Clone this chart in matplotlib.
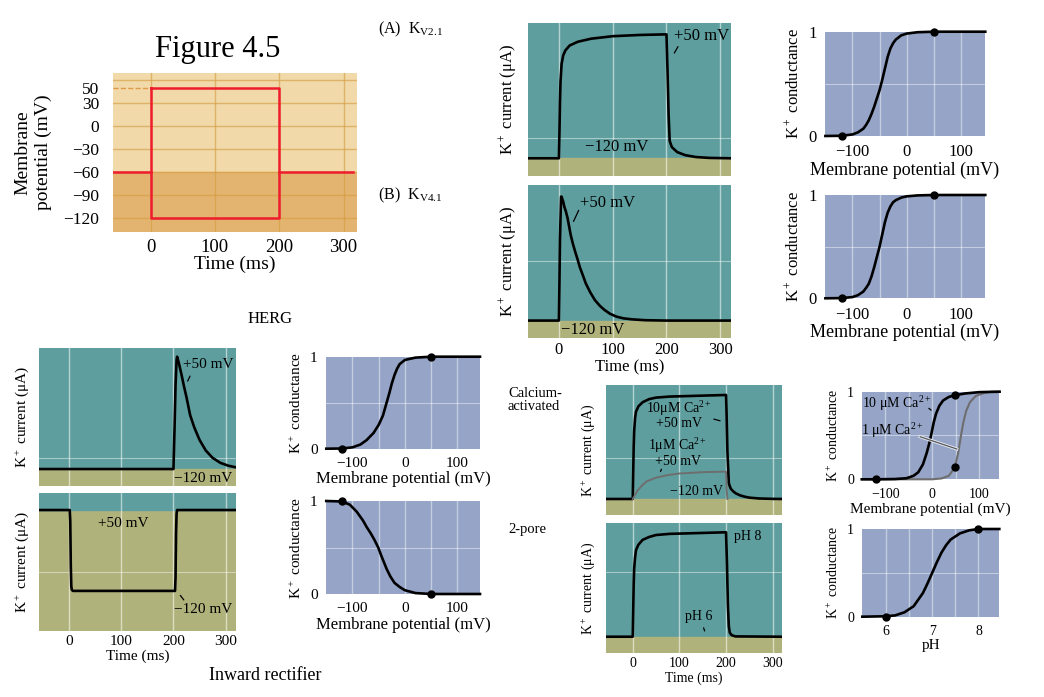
import matplotlib
matplotlib.use('agg')
import matplotlib.pyplot as plt
import matplotlib.patheffects as pe

# ---- data ----
# voltage protocol (mV / ms)
hold_v = -60
step_hi = 50
step_lo = -120
pulse_on = 0
pulse_off = 200
prot_grid_v = [60, 30, 0, -30, -60, -90, -120]
prot_ticks_v = [50, 30, 0, -30, -60, -90, -120]
time_ticks = [0, 100, 200, 300]

# currents, normalised to plateau / peak
kv21_t = [-58, 0, 1, 2, 3, 5, 8, 12, 20, 35, 60, 100, 150, 200, 202, 204, 206, 210, 220, 235, 255, 280, 320]
kv21_i = [0, 0, 0.2, 0.45, 0.62, 0.76, 0.83, 0.87, 0.91, 0.94, 0.965, 0.985, 0.995, 1.0,
          0.7, 0.35, 0.14, 0.09, 0.05, 0.025, 0.01, 0.003, 0]

kv41_t = [-58, 0, 1, 2, 4, 5, 6, 8, 10, 13, 16, 19, 22, 26, 30, 35, 39, 45, 50, 58, 67, 76,
          85, 95, 107, 120, 136, 160, 200, 320]
kv41_i = [0, 0, 0.3, 0.65, 1.0, 1.0, 0.985, 0.96, 0.92, 0.88, 0.83, 0.76, 0.69, 0.62, 0.56,
          0.49, 0.43, 0.36, 0.30, 0.23, 0.165, 0.12, 0.085, 0.055, 0.032, 0.018, 0.01, 0.003, 0, 0]

herg_t = [-58, 200, 202, 204, 206, 207, 210, 215, 220, 225, 232, 240, 250, 262, 275, 290, 305, 320]
herg_i = [0, 0, 0.35, 0.75, 0.97, 1.0, 0.95, 0.85, 0.74, 0.64, 0.48, 0.37, 0.26, 0.165,
          0.1, 0.055, 0.03, 0.015]

kir_t = [-58, 1, 2, 3, 4, 5, 7, 203, 204, 205, 206, 207, 320]
kir_i = [0, 0, -0.1, -0.5, -0.68, -0.71, -0.72, -0.72, -0.6, -0.2, -0.03, 0, 0]

ca10_t = [-58, 0, 1, 2, 3, 5, 7, 12, 21, 35, 50, 80, 121, 160, 200, 201, 203, 206, 210,
          215, 221, 230, 240, 250, 270, 300, 320]
ca10_i = [0, 0, 0.25, 0.5, 0.65, 0.78, 0.84, 0.89, 0.93, 0.96, 0.975, 0.985, 0.99, 0.995,
          1.0, 0.85, 0.45, 0.15, 0.1, 0.075, 0.054, 0.035, 0.022, 0.013, 0.005, 0.001, 0]
ca1_t = [0, 5, 10, 20, 30, 50, 75, 100, 150, 200, 201, 203]
ca1_i = [0, 0.04, 0.08, 0.13, 0.17, 0.205, 0.23, 0.245, 0.258, 0.263, 0.1, 0]

ph_t = [-58, 0, 1, 2, 3, 5, 7, 12, 21, 35, 50, 80, 121, 160, 200, 202, 204, 206, 208, 212, 220, 320]
ph_i = [0, 0, 0.25, 0.5, 0.65, 0.76, 0.83, 0.88, 0.927, 0.955, 0.974, 0.985, 0.99, 0.995,
        1.0, 0.7, 0.3, 0.1, 0.04, 0.015, 0.003, 0]

# conductance vs voltage
kv21_gv = [-150, -120, -100, -90, -80, -75, -70, -65, -60, -55, -50, -45, -40, -35, -30,
           -25, -20, -10, 0, 20, 50, 145]
kv21_g = [0, 0.002, 0.015, 0.035, 0.07, 0.105, 0.15, 0.21, 0.28, 0.36, 0.44, 0.54, 0.65,
          0.76, 0.84, 0.89, 0.925, 0.965, 0.982, 0.995, 1.0, 1.0]
kv41_gv = [-150, -120, -100, -90, -80, -75, -70, -65, -60, -55, -50, -45, -40, -35, -30,
           -25, -20, -10, 0, 20, 50, 145]
kv41_g = [0, 0.002, 0.012, 0.03, 0.065, 0.1, 0.14, 0.21, 0.3, 0.4, 0.5, 0.62, 0.74, 0.83,
          0.89, 0.93, 0.95, 0.975, 0.987, 0.996, 1.0, 1.0]
herg_gv = [-150, -120, -100, -85, -73, -67, -60, -50, -42, -35, -30, -25, -20, -15, -10, 0, 20, 50, 143]
herg_g = [0, 0.002, 0.015, 0.045, 0.094, 0.13, 0.17, 0.26, 0.36, 0.5, 0.6, 0.71, 0.8, 0.87,
          0.92, 0.965, 0.99, 1.0, 1.0]
kir_gv = [-150, -120, -105, -92, -80, -73, -65, -58, -51, -45, -40, -35, -28, -20, -10, 0, 20, 50, 143]
kir_g = [1.0, 0.995, 0.96, 0.885, 0.79, 0.72, 0.65, 0.58, 0.5, 0.41, 0.34, 0.27, 0.19, 0.12,
         0.075, 0.04, 0.01, 0, 0]
ca10_gv = [-150, -120, -80, -55, -40, -30, -20, -12, -6, -2, 3, 8, 15, 23, 35, 48, 70, 100, 143]
ca10_g = [0, 0, 0.003, 0.012, 0.04, 0.08, 0.17, 0.3, 0.42, 0.52, 0.65, 0.75, 0.84, 0.9,
          0.94, 0.96, 0.98, 0.995, 1.0]
ca1_gv = [-150, 0, 20, 35, 48, 55, 61, 66, 72, 80, 92, 110, 125, 143]
ca1_g = [0, 0, 0.01, 0.04, 0.137, 0.3, 0.5, 0.65, 0.78, 0.88, 0.95, 0.985, 1.0, 1.0]
ph_x = [5.49, 6.0, 6.2, 6.4, 6.6, 6.8, 6.9, 7.0, 7.1, 7.2, 7.3, 7.4, 7.6, 7.8, 8.0, 8.45]
ph_g = [0, 0.005, 0.015, 0.05, 0.12, 0.27, 0.38, 0.5, 0.62, 0.73, 0.815, 0.88, 0.95, 0.985, 1.0, 1.0]

mv_ticks = [-100, 0, 100]
mv_grid = [-100, -50, 0, 50, 100]
ph_ticks = [6, 7, 8]
ph_grid = [6, 6.5, 7, 7.5, 8]

# ---- style ----
plt.rcParams['font.family'] = ['Liberation Serif', 'DejaVu Serif']
plt.rcParams['mathtext.fontset'] = 'custom'
plt.rcParams['mathtext.rm'] = 'Liberation Serif'
plt.rcParams['mathtext.it'] = 'Liberation Serif:italic'
plt.rcParams['mathtext.bf'] = 'Liberation Serif:bold'

TEAL = '#5f9e9e'
OLIVE = '#b0b27b'
BLUE = '#95a4c7'
TAN = '#f1d9a9'
TAN_DARK = '#e3b46f'
TAN_GRID = '#d49a3c'
RED = '#ee1c2c'

W, H = 1044, 697
fig = plt.figure(figsize=(W / 100, H / 100), dpi=100)
fig.patch.set_facecolor('white')


def box(x0, y0, x1, y1):
    return fig.add_axes([x0 / W, 1 - y1 / H, (x1 - x0) / W, (y1 - y0) / H])


def bare(ax):
    for s in ax.spines.values():
        s.set_visible(False)
    ax.tick_params(length=0)


def current_panel(ax, t, i, ylim, hgrid, inward=False, show_x=False, fs=11):
    bare(ax)
    ax.set_xlim(-58, 320)
    ax.set_ylim(*ylim)
    if inward:
        ax.set_facecolor(OLIVE)
        ax.axhspan(0, ylim[1], color=TEAL, zorder=0)
    else:
        ax.set_facecolor(TEAL)
        ax.axhspan(ylim[0], 0, color=OLIVE, zorder=0)
    for v in time_ticks:
        ax.axvline(v, color='white', lw=1.0, alpha=0.55, zorder=1)
    ax.axhline(hgrid, color='white', lw=0.8, alpha=0.45, zorder=1)
    ax.plot(t, i, color='black', lw=1.9, zorder=3, solid_joinstyle='round')
    ax.set_yticks([])
    if show_x:
        ax.set_xticks(time_ticks)
        ax.tick_params(labelsize=fs, pad=3)
        ax.set_xlabel('Time (ms)', fontsize=fs, labelpad=1)
    else:
        ax.set_xticks([])
    ax.set_ylabel('K$^+$ current (μA)', fontsize=fs, labelpad=6)


def cond_panel(ax, xlim, ticks, grid, fs=11, xlabel='Membrane potential (mV)'):
    bare(ax)
    ax.set_facecolor(BLUE)
    ax.set_xlim(*xlim)
    ax.set_ylim(0, 1)
    for v in grid:
        ax.axvline(v, color='white', lw=1.0, alpha=0.45, zorder=1)
    ax.axhline(0.5, color='white', lw=0.8, alpha=0.45, zorder=1)
    ax.set_xticks(ticks)
    ax.set_yticks([0, 1])
    ax.tick_params(labelsize=fs, pad=6)
    ax.set_xlabel(xlabel, fontsize=fs + 1, labelpad=1)
    ax.set_ylabel('K$^+$ conductance', fontsize=fs, labelpad=4)


def curve(ax, x, y, color='black', lw=1.9):
    ax.plot(x, y, color=color, lw=lw, zorder=3, clip_on=False, solid_joinstyle='round')


def dots(ax, x, y):
    ax.plot(x, y, 'o', color='black', ms=5, zorder=4, clip_on=False)


def leader(ax, p0, p1, lw=0.9):
    ax.annotate('', xy=p1, xytext=p0, arrowprops=dict(arrowstyle='-', lw=lw, color='black'))


# ---- voltage protocol ----
ax = box(113, 73, 357, 232)
bare(ax)
ax.set_facecolor(TAN)
ax.set_xlim(-58.6, 321)
ax.set_ylim(-138, 69)
ax.axhspan(-138, hold_v, color=TAN_DARK, zorder=0)
for v in prot_grid_v:
    ax.axhline(v, color=TAN_GRID, lw=1.0, alpha=0.6, zorder=1)
for v in time_ticks:
    ax.axvline(v, color=TAN_GRID, lw=1.0, alpha=0.6, zorder=1)
ax.plot([-58.6, pulse_on], [step_hi, step_hi], ls='--', color='#e09a4a', lw=1.0, zorder=2)
ax.plot([-58.6, pulse_on], [hold_v, hold_v], color=RED, lw=1.8, zorder=3)
ax.plot([pulse_off, 314], [hold_v, hold_v], color=RED, lw=1.8, zorder=3)
ax.plot([pulse_on, pulse_off, pulse_off, pulse_on, pulse_on],
        [step_hi, step_hi, step_lo, step_lo, step_hi], color=RED, lw=1.8, zorder=3)
ax.set_xticks(time_ticks)
ax.set_yticks(prot_ticks_v)
ax.tick_params(axis='x', labelsize=13.5, pad=5)
ax.tick_params(axis='y', labelsize=12.5, pad=10)
ax.set_xlabel('Time (ms)', fontsize=14, labelpad=0)
ax.set_ylabel('Membrane\npotential (mV)', fontsize=14, labelpad=8, linespacing=1.25)

fig.text(218 / W, 1 - 50 / H, 'Figure 4.5', fontsize=22, ha='center', va='center')
fig.text(378 / W, 1 - 29 / H, '(A)  K$_{\\mathrm{V2.1}}$', fontsize=11.5, va='center')
fig.text(378 / W, 1 - 195 / H, '(B)  K$_{\\mathrm{V4.1}}$', fontsize=11.5, va='center')
fig.text(270 / W, 1 - 319 / H, 'HERG', fontsize=12, ha='center', va='center')
fig.text(265 / W, 1 - 676 / H, 'Inward rectifier', fontsize=13, ha='center', va='center')
fig.text(508 / W, 1 - 387 / H, 'Calcium-\nactivated', fontsize=10.5, va='top', linespacing=1.05)
fig.text(508 / W, 1 - 530 / H, '2-pore', fontsize=10.5, va='center')

# ---- Kv2.1 ----
ax = box(527.7, 22.7, 731, 176)
current_panel(ax, kv21_t, kv21_i, (-0.143, 1.094), 0.161, fs=12)
ax.text(266, 0.99, '+50 mV', fontsize=12, ha='center', va='center')
leader(ax, (224, 0.92), (212, 0.83))
ax.text(108, 0.09, '−120 mV', fontsize=12, ha='center', va='center')

ax = box(825, 31.7, 985, 136)
cond_panel(ax, (-150.7, 144.5), mv_ticks, mv_grid, fs=12)
curve(ax, kv21_gv, kv21_g)
dots(ax, [-120, 50], [0, 1])

# ---- Kv4.1 ----
ax = box(527.7, 185, 731, 338.3)
current_panel(ax, kv41_t, kv41_i, (-0.143, 1.094), 0.48, show_x=True, fs=12)
ax.text(91, 0.95, '+50 mV', fontsize=12, ha='center', va='center')
leader(ax, (39, 0.91), (25, 0.78))
ax.text(62, -0.075, '−120 mV', fontsize=12, ha='center', va='center')

ax = box(825, 195, 985, 298.3)
cond_panel(ax, (-150.7, 144.5), mv_ticks, mv_grid, fs=12)
curve(ax, kv41_gv, kv41_g)
dots(ax, [-120, 50], [0, 1])

# ---- HERG ----
ax = box(39, 348.3, 236, 486)
current_panel(ax, herg_t, herg_i, (-0.151, 1.075), 0.095, fs=11)
ax.text(266, 0.935, '+50 mV', fontsize=11, ha='center', va='center')
leader(ax, (234, 0.85), (225, 0.76))
ax.text(256, -0.085, '−120 mV', fontsize=11, ha='center', va='center')

ax = box(326, 356.7, 480, 448.7)
cond_panel(ax, (-150.5, 143), mv_ticks, mv_grid, fs=11)
curve(ax, herg_gv, herg_g)
dots(ax, [-120, 50], [0, 1])

# ---- inward rectifier ----
ax = box(39, 493.3, 236, 631)
current_panel(ax, kir_t, kir_i, (-1.077, 0.149), -0.55, inward=True, show_x=True, fs=11)
ax.text(103, -0.12, '+50 mV', fontsize=11, ha='center', va='center')
leader(ax, (210, -0.74), (223, -0.82))
ax.text(256, -0.89, '−120 mV', fontsize=11, ha='center', va='center')

ax = box(326, 501, 480, 594)
cond_panel(ax, (-150.5, 143), mv_ticks, mv_grid, fs=11)
curve(ax, kir_gv, kir_g)
dots(ax, [-120, 50], [1, 0])

# ---- calcium-activated ----
ax = box(605.7, 385, 782, 515)
current_panel(ax, ca10_t, ca10_i, (-0.154, 1.096), 0.39, fs=10)
ax.plot(ca1_t, ca1_i, color='#6e6e6e', lw=1.4, zorder=3)
ax.text(100, 0.81, '10μM Ca$^{2+}$\n+50 mV', fontsize=10, ha='center', va='center', linespacing=0.95)
leader(ax, (168, 0.775), (193, 0.745))
ax.text(96, 0.45, '1μM Ca$^{2+}$\n+50 mV', fontsize=10, ha='center', va='center', linespacing=0.95)
leader(ax, (64, 0.31), (57, 0.24))
ax.text(136, 0.07, '−120 mV', fontsize=10, ha='center', va='center')

ax = box(862.3, 391.7, 999.3, 479.3)
cond_panel(ax, (-149, 142.5), mv_ticks, mv_grid, fs=10)
curve(ax, ca1_gv, ca1_g, color='#6e6e6e', lw=1.5)
curve(ax, ca10_gv, ca10_g)
dots(ax, [-120, 48, 48], [0, 0.96, 0.137])
ax.text(-76, 0.867, '10 μM Ca$^{2+}$', fontsize=10, ha='center', va='center')
leader(ax, (-12, 0.83), (2, 0.77))
ax.text(-86, 0.56, '1 μM Ca$^{2+}$', fontsize=10, ha='center', va='center')
ax.plot([-26, 52], [0.486, 0.346], color='#555555', lw=0.9, zorder=5,
        path_effects=[pe.withStroke(linewidth=2.2, foreground='#e8ecf4')])

# ---- 2-pore ----
ax = box(605.7, 523.3, 782, 652.7)
current_panel(ax, ph_t, ph_i, (-0.153, 1.086), 0.62, show_x=True, fs=10)
ax.text(247, 0.958, 'pH 8', fontsize=10, ha='center', va='center')
ax.text(141, 0.19, 'pH 6', fontsize=10, ha='center', va='center')
leader(ax, (150, 0.11), (156, 0.03))

ax = box(862.3, 529, 999.3, 616.7)
cond_panel(ax, (5.49, 8.45), ph_ticks, ph_grid, fs=10, xlabel='pH')
curve(ax, ph_x, ph_g)
dots(ax, [6, 8], [0, 1])

fig.savefig('out.png', dpi=100)
plt.close(fig)
